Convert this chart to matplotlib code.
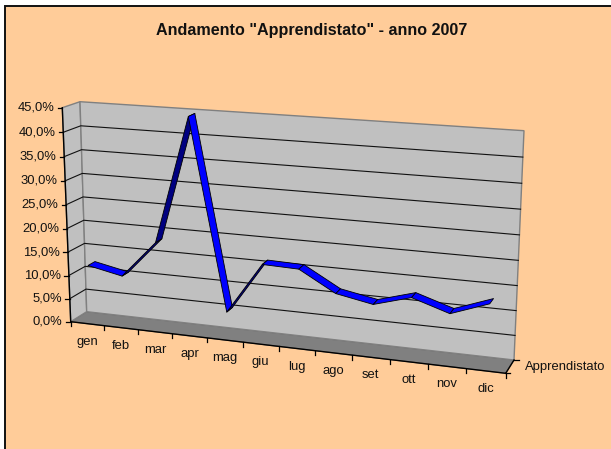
import matplotlib
matplotlib.use("Agg")
import matplotlib.pyplot as plt
from matplotlib.patches import Polygon, Rectangle
import numpy as np

# Data
months = ["gen", "feb", "mar", "apr", "mag", "giu", "lug", "ago", "set", "ott", "nov", "dic"]
apprendistato = [12.2, 10.7, 18.5, 44.8, 5.5, 16.2, 16.0, 11.8, 10.4, 12.6, 10.2, 13.0]
value_ticks = [0, 5, 10, 15, 20, 25, 30, 35, 40, 45]
series_name = "Apprendistato"
title = 'Andamento "Apprendistato" - anno 2007'

W, H = 611, 449
plt.rcParams["font.family"] = ["Liberation Sans", "DejaVu Sans"]

# Corners of the 3D box in pixels: bottom left, bottom right, top right, top left
FRONT = [(70.7, 321.7), (505.7, 373.3), (514.5, 140.7), (62.3, 107.7)]
BACK = [(86.7, 311.7), (514.0, 360.0), (524.0, 130.7), (80.0, 101.7)]
N = len(months)
VMAX = value_ticks[-1]


def homography(corners):
	src = [(0, 0), (1, 0), (1, 1), (0, 1)]
	A = []
	b = []
	for (u, v), (x, y) in zip(src, corners):
		A.append([u, v, 1, 0, 0, 0, -u * x, -v * x])
		A.append([0, 0, 0, u, v, 1, -u * y, -v * y])
		b += [x, y]
	return np.append(np.linalg.solve(np.array(A), np.array(b)), 1).reshape(3, 3)


H_FRONT = homography(FRONT)
H_BACK = homography(BACK)


def proj(cat, val, depth=0.0):
	# cat in category units, val in percent, depth 0 = front, 1 = back
	p = np.array([cat / N, val / VMAX, 1.0])
	a = H_FRONT @ p
	b = H_BACK @ p
	return (1 - depth) * a[:2] / a[2] + depth * b[:2] / b[2]


fig = plt.figure(figsize=(W / 100, H / 100), dpi=100, facecolor="white")
ax = fig.add_axes([0, 0, 1, 1])
ax.set_xlim(0, W)
ax.set_ylim(H, 0)
ax.axis("off")

# chart area, cut off by the right and bottom of the image
ax.add_patch(Rectangle((4.5, 5.5), W, H, facecolor="#FFCC99", edgecolor="#111111", lw=1.4))

# floor and walls
ax.add_patch(Polygon([proj(0, 0, 0), proj(0, 0, 1), proj(N, 0, 1), proj(N, 0, 0)],
	facecolor="#808080", edgecolor="#666666", lw=0.8))
ax.add_patch(Polygon([proj(0, 0, 0), proj(0, VMAX, 0), proj(0, VMAX, 1), proj(0, 0, 1)],
	facecolor="#C0C0C0", edgecolor="#808080", lw=1.0))
ax.add_patch(Polygon([proj(0, 0, 1), proj(0, VMAX, 1), proj(N, VMAX, 1), proj(N, 0, 1)],
	facecolor="#C0C0C0", edgecolor="#808080", lw=1.0))

# gridlines and value axis
for v in value_ticks:
	p0 = proj(0, v, 0)
	p1 = proj(0, v, 1)
	p2 = proj(N, v, 1)
	if v not in (0, VMAX):
		ax.plot([p0[0], p1[0], p2[0]], [p0[1], p1[1], p2[1]], color="#111111", lw=0.8)
	ax.plot([p0[0] - 4.5, p0[0]], [p0[1], p0[1]], color="black", lw=0.9)
	ax.text(p0[0] - 8, p0[1], ("%.1f%%" % v).replace(".", ","), ha="right", va="center",
		fontsize=9.4, color="#111111")

p0 = proj(0, 0, 0)
p1 = proj(0, VMAX, 0)
ax.plot([p0[0], p1[0]], [p0[1], p1[1]], color="black", lw=1.0)
p1 = proj(N, 0, 0)
ax.plot([p0[0], p1[0]], [p0[1], p1[1]], color="black", lw=1.0)

# category ticks and labels
for i in range(N + 1):
	p = proj(i, 0, 0)
	ax.plot([p[0], p[0]], [p[1], p[1] + 4.5], color="black", lw=0.9)
for i, m in enumerate(months):
	p = proj(i + 0.5, 0, 0)
	ax.text(p[0], p[1] + 18, m, ha="center", va="center", fontsize=9.4, color="#111111")

# depth axis on the right
p = proj(N, 0, 0)
q = proj(N, 0, 1)
ax.plot([p[0], q[0]], [p[1], q[1]], color="black", lw=1.0)
ax.plot([p[0], p[0] + 4.5], [p[1], p[1]], color="black", lw=0.9)
ax.plot([q[0], q[0] + 5], [q[1], q[1]], color="black", lw=0.9)
ax.text(q[0] + 11, q[1] + 7.5, series_name, ha="left", va="center", fontsize=9.4, color="#111111")

# the ribbon, steep rising pieces show their dark side
D1, D2 = 0.17, 0.6
for i in range(N - 1):
	a = apprendistato[i]
	b = apprendistato[i + 1]
	quad = [proj(i + 0.5, a, D1), proj(i + 1.5, b, D1), proj(i + 1.5, b, D2), proj(i + 0.5, a, D2)]
	col = "#000080" if b - a > 3 else "#0000FF"
	ax.add_patch(Polygon(quad, facecolor=col, edgecolor="black", lw=0.6, joinstyle="round", zorder=5))

ax.text(312, 30, title, ha="center", va="center", fontsize=11.6, fontweight="bold", color="#111111")

fig.savefig("out.png", dpi=100, facecolor=fig.get_facecolor())
